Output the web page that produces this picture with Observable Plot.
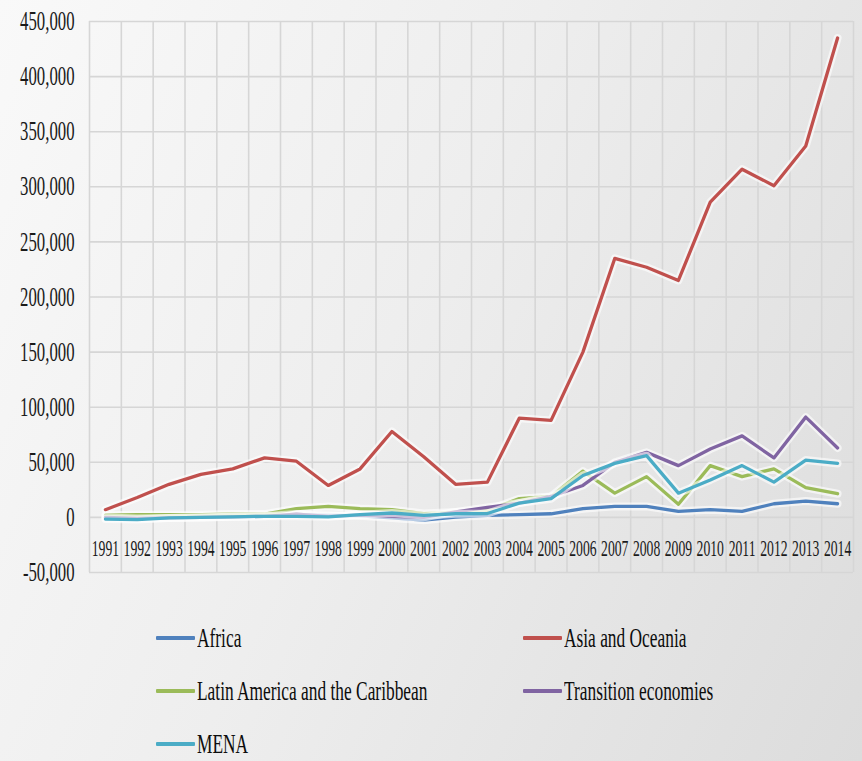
<!DOCTYPE html>
<html><head><meta charset="utf-8">
<script src="https://cdn.jsdelivr.net/npm/d3@7"></script>
<script src="https://cdn.jsdelivr.net/npm/@observablehq/plot@0.6"></script>
<style>
html,body{margin:0;padding:0;}
body{width:862px;height:761px;overflow:hidden;background:linear-gradient(115deg,#f9f9f9 0%,#eeeeee 45%,#dcdcdc 100%);}
#wrap{position:relative;width:862px;height:761px;}
#wrap svg{display:block;}
.leg{position:absolute;height:26px;display:flex;align-items:center;white-space:nowrap;}
.leg .sw{width:39px;height:4px;border-radius:1px;flex:none;}
.leg .lb{font-family:"Liberation Serif",serif;font-size:28px;line-height:26px;color:#0d0d0d;transform:scaleX(0.62);transform-origin:left center;margin-left:2px;}
</style></head><body><div id="wrap"></div>
<script>
const years = [1991,1992,1993,1994,1995,1996,1997,1998,1999,2000,2001,2002,2003,2004,2005,2006,2007,2008,2009,2010,2011,2012,2013,2014];
const africa     = [1000,500,1000,1500,1500,2000,2500,2000,1500,-500,-2500,300,1800,2500,3300,7900,10000,10000,5500,7000,5500,12400,14800,12400];
const asia       = [7000,18000,30000,39000,44000,54000,51000,29000,44000,78000,55000,30000,32000,90000,88000,150000,235000,227000,215000,286000,316000,301000,337000,435000];
const latin      = [2000,2500,2500,2500,3000,3000,8000,10000,8000,7000,3500,4800,6500,17000,19000,42000,22000,37000,12000,47000,37000,44000,27000,21500];
const transition = [0,-1000,-500,0,500,1000,3000,1000,2000,1000,0,5000,9000,13000,19000,29000,50000,59000,47000,62000,74000,54000,91000,63000];
const mena       = [-1500,-2000,-500,0,500,1000,1000,500,2500,4000,1800,3300,3500,13000,17000,38000,49000,56000,22000,34000,47000,32000,52000,49000];
const seriesNames  = ["Africa","Asia and Oceania","Latin America and the Caribbean","Transition economies","MENA"];
const seriesValues = [africa, asia, latin, transition, mena];
const seriesColors = ["#4F81BD","#C0504D","#9BBB59","#8064A2","#4BACC6"];
const yTicks = [-50000,0,50000,100000,150000,200000,250000,300000,350000,400000,450000];

const yearBounds = [years[0]-0.5, ...years.map(y => y + 0.5)];
const fmt = d => d.toLocaleString("en-US");

const lineMarks = [];
seriesNames.forEach((name, i) => {
  const rows = years.map((y, j) => ({year: y, value: seriesValues[i][j], series: name}));
  lineMarks.push(Plot.line(rows, {x: "year", y: "value", stroke: "white", strokeWidth: 8, strokeOpacity: 0.6, strokeLinejoin: "round", strokeLinecap: "round"}));
  lineMarks.push(Plot.line(rows, {x: "year", y: "value", stroke: seriesColors[i], strokeWidth: 3.3, strokeLinejoin: "round", strokeLinecap: "round"}));
});

const chart = Plot.plot({
  width: 862,
  height: 600,
  marginLeft: 89,
  marginRight: 9,
  marginTop: 21,
  marginBottom: 28,
  style: {fontFamily: "Liberation Serif", background: "transparent", color: "#1a1a1a"},
  x: {type: "linear", domain: [years[0]-0.5, years[years.length-1]+0.5], axis: null},
  y: {domain: [-50000, 450000], axis: null},
  marks: [
    Plot.ruleY(yTicks, {stroke: "#d6d6d6", strokeWidth: 1.6}),
    Plot.ruleX(yearBounds, {stroke: "#d6d6d6", strokeWidth: 1.6}),
    Plot.axisY(yTicks, {tickSize: 0, tickPadding: 15, fontSize: 27, tickFormat: fmt, fill: "#1a1a1a", label: null}),
    Plot.text(years, {x: d => d, y: 0, dy: 31, text: d => String(d), fontSize: 24, fill: "#1a1a1a"}),
    ...lineMarks
  ]
});

chart.querySelectorAll("text").forEach(t => {
  const g = t.closest("g");
  const lbl = g ? g.getAttribute("aria-label") : "";
  const s = lbl === "text" ? 0.57 : 0.62;
  const tr = t.getAttribute("transform") || "";
  t.setAttribute("transform", `${tr} scale(${s},1)`);
});

const wrap = document.getElementById("wrap");
wrap.appendChild(chart);
seriesNames.forEach((name, i) => {
  const col = i % 2, row = Math.floor(i / 2);
  const d = document.createElement("div");
  d.className = "leg";
  d.style.left = (col === 0 ? 156 : 523) + "px";
  d.style.top = (638 + row * 53 - 13) + "px";
  const sw = document.createElement("span");
  sw.className = "sw"; sw.style.background = seriesColors[i];
  const lb = document.createElement("span");
  lb.className = "lb"; lb.textContent = name;
  d.appendChild(sw); d.appendChild(lb);
  wrap.appendChild(d);
});
</script></body></html>
